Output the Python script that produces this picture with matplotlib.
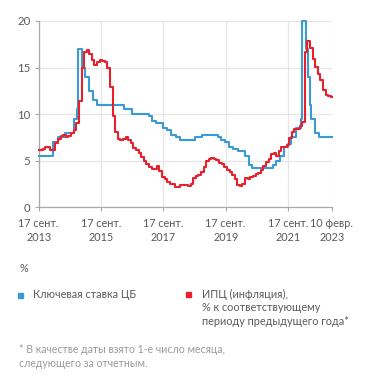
import matplotlib
matplotlib.use("Agg")
import matplotlib.pyplot as plt
import pandas as pd

# Key rate (Bank of Russia) decision dates and values
rate_dates = ["2013-09-17", "2014-03-03", "2014-04-28", "2014-07-28", "2014-11-05",
              "2014-12-12", "2014-12-16", "2015-02-02", "2015-03-16", "2015-05-05",
              "2015-06-16", "2015-08-03", "2016-06-14", "2016-09-19", "2017-03-27",
              "2017-05-02", "2017-06-19", "2017-09-18", "2017-10-30", "2017-12-18",
              "2018-02-12", "2018-03-26", "2018-09-17", "2018-12-17", "2019-06-17",
              "2019-07-29", "2019-09-09", "2019-10-28", "2019-12-16", "2020-02-10",
              "2020-04-27", "2020-06-22", "2020-07-27", "2021-03-22", "2021-04-26",
              "2021-06-15", "2021-07-26", "2021-09-13", "2021-10-25", "2021-12-20",
              "2022-02-14", "2022-02-28", "2022-04-11", "2022-05-04", "2022-05-27",
              "2022-06-14", "2022-07-25", "2022-09-19", "2023-02-10"]
rate_values = [5.5, 7.0, 7.5, 8.0, 9.5,
               10.5, 17.0, 15.0, 14.0, 12.5,
               11.5, 11.0, 10.5, 10.0, 9.75,
               9.25, 9.0, 8.5, 8.25, 7.75,
               7.5, 7.25, 7.5, 7.75, 7.5,
               7.25, 7.0, 6.5, 6.25, 6.0,
               5.5, 4.5, 4.25, 4.5, 5.0,
               5.5, 6.5, 6.75, 7.5, 8.5,
               9.5, 20.0, 17.0, 14.0, 11.0,
               9.5, 8.0, 7.5, 7.5]

# CPI y/y, dated the 1st of the month following the reporting month (Oct 2013 .. Feb 2023)
cpi_start = "2013-10-01"
cpi_values = [6.1, 6.3, 6.5, 6.5,
              6.1, 6.2, 6.9, 7.3, 7.6, 7.8, 7.5, 7.6, 8.0, 8.3, 9.1, 11.4,
              15.0, 16.7, 16.9, 16.4, 15.8, 15.3, 15.6, 15.8, 15.7, 15.6, 15.0, 12.9,
              9.8, 8.1, 7.3, 7.2, 7.3, 7.5, 7.2, 6.9, 6.4, 6.1, 5.8, 5.4,
              5.0, 4.6, 4.3, 4.1, 4.1, 4.4, 3.9, 3.3, 3.0, 2.7, 2.5, 2.5,
              2.2, 2.2, 2.4, 2.4, 2.4, 2.3, 2.5, 3.1, 3.4, 3.5, 3.8, 4.3,
              5.0, 5.2, 5.3, 5.2, 5.1, 4.7, 4.6, 4.3, 4.0, 3.8, 3.5, 3.0,
              2.4, 2.3, 2.5, 3.1, 3.0, 3.2, 3.4, 3.6, 3.7, 4.0, 4.4, 4.9,
              5.2, 5.7, 5.8, 5.5, 6.0, 6.5, 6.5, 6.7, 7.4, 8.1, 8.4, 8.4,
              8.7, 9.2, 16.7, 17.8, 17.1, 15.9, 15.1, 14.3, 13.7, 12.6, 12.0, 11.9,
              11.8]

tick_dates = ["2013-09-17", "2015-09-17", "2017-09-17", "2019-09-17", "2021-09-17", "2023-02-10"]
tick_labels = ["17 сент.\n2013", "17 сент.\n2015", "17 сент.\n2017", "17 сент.\n2019",
               "17 сент.\n2021", "10 февр.\n2023"]
y_ticks = [0, 5, 10, 15, 20]

legend_labels = ["Ключевая ставка ЦБ",
                 "ИПЦ (инфляция),\n% к соответствующему\nпериоду предыдущего года*"]
footnote = "* В качестве даты взято 1-е число месяца,\nследующего за отчетным."

BLUE = "#3a9ad6"
RED = "#e8202c"
TXT = "#5a5a5a"
GRID = "#e6e6e6"
FONT = ["Lato", "DejaVu Sans"]
plt.rcParams["font.family"] = FONT

start = pd.Timestamp(tick_dates[0])
end = pd.Timestamp(tick_dates[-1])

rd = pd.to_datetime(rate_dates)
cd = pd.date_range(cpi_start, periods=len(cpi_values), freq="MS")
cd_full = [start] + list(cd) + [end]
cv_full = [cpi_values[0]] + list(cpi_values) + [cpi_values[-1]]

fig = plt.figure(figsize=(3.71, 3.86), dpi=100)
ax = fig.add_axes([0.1043, 0.463, 0.7897, 0.4827])

ax.plot(rd, rate_values, drawstyle="steps-post", color=BLUE, lw=1.5, clip_on=False, zorder=3)
ax.plot(cd_full, cv_full, drawstyle="steps-post", color=RED, lw=1.5, clip_on=False, zorder=4)

ax.set_xlim(start, end)
ax.set_ylim(0, 20)
ax.set_xticks(pd.to_datetime(tick_dates))
ax.set_xticklabels(tick_labels, fontsize=7.8, color=TXT, linespacing=1.25)
ax.set_yticks(y_ticks)
ax.set_yticklabels([str(v) for v in y_ticks], fontsize=8.2, color=TXT)
ax.grid(True, color=GRID, lw=0.9)
ax.set_axisbelow(True)
for s in ["top", "right"]:
    ax.spines[s].set_visible(False)
for s in ["left", "bottom"]:
    ax.spines[s].set_color("#aaaaaa")
    ax.spines[s].set_linewidth(0.9)
ax.tick_params(axis="both", length=3, width=0.8, color="#aaaaaa", pad=3)
ax.tick_params(axis="x", pad=5)

# legend area
fig.text(19 / 371, 1 - 268 / 386, "%", fontsize=7.8, color=TXT, va="center", ha="left")
fig.patches.append(plt.Rectangle((18 / 371, 1 - 297.5 / 386), 5 / 371, 5 / 386,
                                 transform=fig.transFigure, color=BLUE, figure=fig))
fig.text(33 / 371, 1 - 295 / 386, legend_labels[0], fontsize=7.8, color=TXT, va="center", ha="left")
fig.patches.append(plt.Rectangle((186 / 371, 1 - 296.5 / 386), 5 / 371, 5 / 386,
                                 transform=fig.transFigure, color=RED, figure=fig))
fig.text(202 / 371, 1 - 288.5 / 386, legend_labels[1], fontsize=7.8, color=TXT, va="top", ha="left",
         linespacing=1.3)
fig.text(19 / 371, 1 - 344 / 386, footnote, fontsize=7.6, color="#9a9a9a", va="top", ha="left",
         linespacing=1.3)

fig.savefig("out.png", dpi=100)
